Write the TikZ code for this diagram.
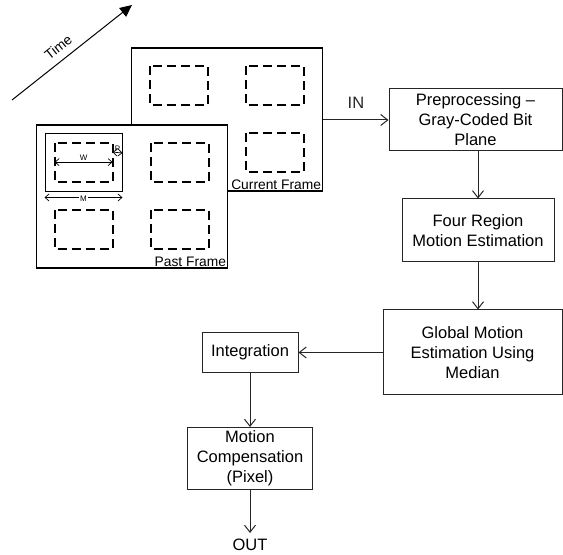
\documentclass[tikz,border=0pt]{standalone}
\usepackage{fontspec}
\setmainfont{Liberation Sans}
\usetikzlibrary{arrows.meta,positioning}

\begin{document}
\begin{tikzpicture}[x=0.5pt, y=-0.5pt, font=\fontsize{8.25}{10}\selectfont,
  box/.style={draw=black!85, line width=0.5pt, align=center, inner sep=0pt},
  frm/.style={draw, line width=0.9pt, fill=white, inner sep=0pt, minimum width=95.5pt, minimum height=71.5pt},
  win/.style={draw, line width=0.9pt, dash pattern=on 4.5pt off 2.5pt},
  arr/.style={-{Straight Barb[length=3.5pt, width=5.5pt]}, black!85, line width=0.5pt},
  dim/.style={{Straight Barb[length=2pt, width=3.5pt]}-{Straight Barb[length=2pt, width=3.5pt]}, line width=0.35pt},
  small/.style={font=\fontsize{6.9}{8}\selectfont, inner sep=1pt},
  tiny/.style={font=\fontsize{4}{5}\selectfont, inner sep=0.5pt}]
\useasboundingbox (0,0) rectangle (563,555);
\coordinate (t0) at (12,100); \coordinate (t1) at (132,5);
\draw[-{Triangle[length=6pt, width=5.5pt]}, line width=0.5pt] (t0) -- node[pos=0.45, sloped, above=2.5pt, small]{Time} (t1);
\node[frm] (cur) at (227,119.5) {};
\foreach \dx in {19,115} \foreach \dy in {19,86}
  \draw[win] ([shift={(\dx,\dy)}]cur.north west) rectangle ++(58,39);
\node[small, anchor=south east] at (cur.south east) {Current Frame};
\node[frm] (past) at (132,196.5) {};
\foreach \dx in {19,115} \foreach \dy in {19,86}
  \draw[win] ([shift={(\dx,\dy)}]past.north west) rectangle ++(58,39);
\node[small, anchor=south east] at (past.south east) {Past Frame};
\node[draw, line width=0.5pt, inner sep=0pt, minimum width=38.5pt, minimum height=29pt] (srch) at (83.5,163) {};
\draw[dim] ([shift={(19,38)}]past.north west) -- node[tiny, above]{W} ([shift={(77,38)}]past.north west);
\draw[dim] ([yshift=-2.5pt]srch.south west) -- node[tiny, fill=white, yshift=-0.5pt]{M} ([yshift=-2.5pt]srch.south east);
\draw[dim] ([shift={(77,28)}]past.north west) -- node[tiny, above]{P} ([yshift=5pt]srch.east);
\node[box, minimum width=86.5pt, minimum height=31pt] (pre) at (475.5,120) {Preprocessing --\\Gray-Coded Bit\\Plane};
\node[box, minimum width=76pt, minimum height=31.5pt, below=23.5pt of pre, xshift=1.25pt] (four) {Four Region\\Motion Estimation};
\node[box, minimum width=89.5pt, minimum height=42.5pt, below=23.5pt of four, xshift=-2.75pt] (glob) {Global Motion\\Estimation Using\\Median};
\node[box, minimum width=48pt, minimum height=20pt, left=42pt of glob] (integ) {Integration};
\node[box, minimum width=62.5pt, minimum height=31pt, below=27pt of integ] (comp) {Motion\\Compensation\\(Pixel)};
\node[inner sep=3pt, below=21.5pt of comp] (out) {OUT};
\draw[arr] (cur.east |- pre.west) -- node[above=2pt]{IN} (pre.west);
\draw[arr] (four.north |- pre.south) -- (four.north);
\draw[arr] (four.south) -- (four.south |- glob.north);
\draw[arr] (glob.west |- integ.east) -- (integ.east);
\draw[arr] (integ.south) -- (integ.south |- comp.north);
\draw[arr] (comp.south) -- (out.north);
\end{tikzpicture}
\end{document}
